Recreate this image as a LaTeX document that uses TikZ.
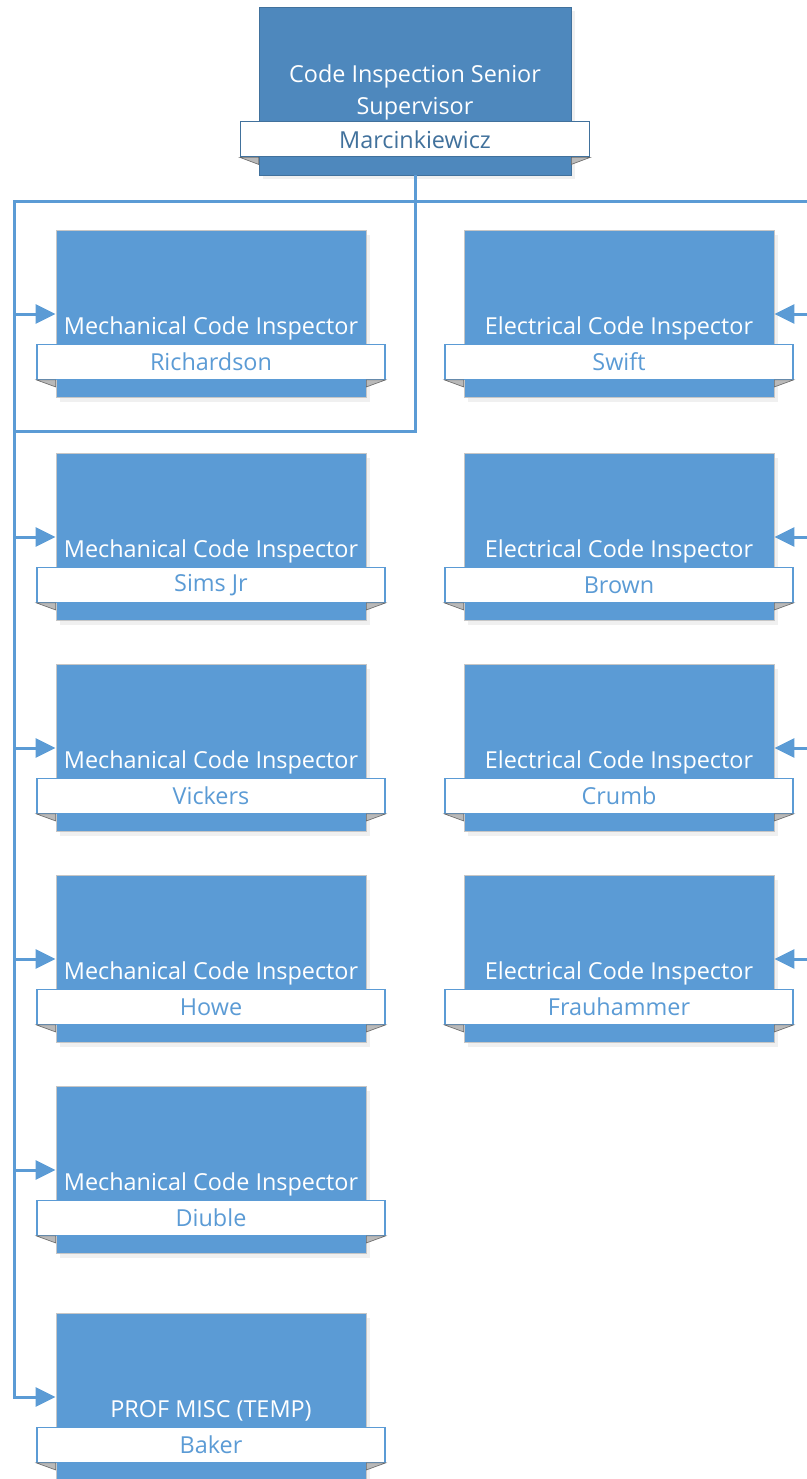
\documentclass[tikz,border=0pt]{standalone}
\usepackage{fontspec}
\setmainfont{Open Sans}
\usepackage{xcolor}
\usetikzlibrary{positioning,arrows.meta,shadows}

\definecolor{posblue}{HTML}{5B9BD5}
\definecolor{supblue}{HTML}{4E88BD}
\definecolor{supline}{HTML}{41719C}

\begin{document}
\begin{tikzpicture}[x=0.5pt, y=-0.5pt,
      every node/.style = {font=\fontsize{11.7}{15.5}\selectfont},
      posbox/.style = {rectangle, draw=gray!45, fill=posblue, minimum width=155pt, minimum height=83.5pt,
        drop shadow={opacity=0.12, shadow xshift=2pt, shadow yshift=-2pt}},
      supbox/.style = {posbox, draw=supline, fill=supblue, minimum width=156pt, minimum height=84pt},
      namebox/.style = {rectangle, draw=posblue, line width=0.6pt, fill=white, minimum width=174pt,
        minimum height=17.5pt, inner sep=0pt, text=posblue},
      titletext/.style = {text=white, inner sep=0pt, text depth=3pt, align=center, anchor=south},
      link/.style = {draw=posblue, line width=1.5pt, -{Triangle[length=10pt, width=9.5pt]}},
      fold/.style = {fill=gray!55, draw=gray!80!black, line width=0.3pt}
    ]
    \useasboundingbox (0,0) rectangle (807,1479);

    % supervisor
    \node[supbox] (sup) at (415,91) {};
    \node[namebox, draw=supline, text=supline, minimum width=174.5pt, above=9pt of sup.south] (supn) {Marcinkiewicz};
    \node[titletext, font=\fontsize{11.7}{16}\selectfont, above=0.2pt of supn] (supt) {Code Inspection Senior\\Supervisor};

    % mechanical column
    \node[posbox] (mech1) at (211,314) {};
    \node[namebox, above=9pt of mech1.south] (mech1n) {Richardson};
    \node[titletext, above=1.2pt of mech1n] (mech1t) {Mechanical Code Inspector};

    \node[posbox] (mech2) at (211,537) {};
    \node[namebox, above=9pt of mech2.south] (mech2n) {Sims Jr};
    \node[titletext, above=1.2pt of mech2n] (mech2t) {Mechanical Code Inspector};

    \node[posbox] (mech3) at (211,748) {};
    \node[namebox, above=9pt of mech3.south] (mech3n) {Vickers};
    \node[titletext, above=1.2pt of mech3n] (mech3t) {Mechanical Code Inspector};

    \node[posbox] (mech4) at (211,959) {};
    \node[namebox, above=9pt of mech4.south] (mech4n) {Howe};
    \node[titletext, above=1.2pt of mech4n] (mech4t) {Mechanical Code Inspector};

    \node[posbox] (mech5) at (211,1170) {};
    \node[namebox, above=9pt of mech5.south] (mech5n) {Diuble};
    \node[titletext, above=1.2pt of mech5n] (mech5t) {Mechanical Code Inspector};

    \node[posbox] (mech6) at (211,1397) {};
    \node[namebox, above=9pt of mech6.south] (mech6n) {Baker};
    \node[titletext, above=1.2pt of mech6n] (mech6t) {PROF MISC (TEMP)};

    % electrical column
    \node[posbox] (elec1) at (619,314) {};
    \node[namebox, above=9pt of elec1.south] (elec1n) {Swift};
    \node[titletext, above=1.2pt of elec1n] (elec1t) {Electrical Code Inspector};

    \node[posbox] (elec2) at (619,537) {};
    \node[namebox, above=9pt of elec2.south] (elec2n) {Brown};
    \node[titletext, above=1.2pt of elec2n] (elec2t) {Electrical Code Inspector};

    \node[posbox] (elec3) at (619,748) {};
    \node[namebox, above=9pt of elec3.south] (elec3n) {Crumb};
    \node[titletext, above=1.2pt of elec3n] (elec3t) {Electrical Code Inspector};

    \node[posbox] (elec4) at (619,959) {};
    \node[namebox, above=9pt of elec4.south] (elec4n) {Frauhammer};
    \node[titletext, above=1.2pt of elec4n] (elec4t) {Electrical Code Inspector};

    % folds under the name tabs
    \foreach \bx in {sup,mech1,mech2,mech3,mech4,mech5,mech6,elec1,elec2,elec3,elec4} {
      \filldraw[fold] (\bx n.south west) -- (\bx n.south west -| \bx.west) -- ([yshift=-3.5pt]\bx n.south west -| \bx.west) -- cycle;
      \filldraw[fold] (\bx n.south east) -- (\bx n.south east -| \bx.east) -- ([yshift=-3.5pt]\bx n.south east -| \bx.east) -- cycle;
    }

    % connectors
    \coordinate (jn) at (415,201);
    \coordinate (lt) at (14,201);
    \coordinate (rt) at (830,201);
    \coordinate (lx) at (415,431);
    \coordinate (lb) at (14,431);

    \draw[posblue, line width=1.5pt] (jn) -- (lx) -- (lb);
    \draw[link] (sup.south) |- (lt) |- (mech1.west);
    \draw[link] (sup.south) |- (lt) |- (mech2.west);
    \draw[link] (sup.south) |- (lt) |- (mech3.west);
    \draw[link] (sup.south) |- (lt) |- (mech4.west);
    \draw[link] (sup.south) |- (lt) |- (mech5.west);
    \draw[link] (sup.south) |- (lt) |- (mech6.west);
    \draw[link] (sup.south) |- (rt) |- (elec1.east);
    \draw[link] (sup.south) |- (rt) |- (elec2.east);
    \draw[link] (sup.south) |- (rt) |- (elec3.east);
    \draw[link] (sup.south) |- (rt) |- (elec4.east);
\end{tikzpicture}
\end{document}
